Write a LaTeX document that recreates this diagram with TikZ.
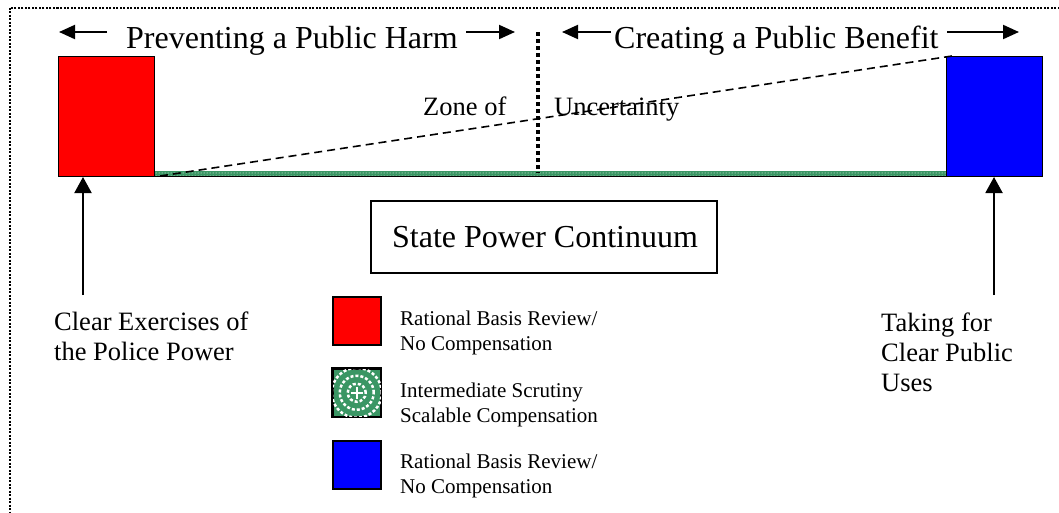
\documentclass[tikz,border=0pt]{standalone}
\usepackage{fontspec}
\setmainfont{Liberation Serif}
\usetikzlibrary{arrows.meta,patterns}
\definecolor{sgreen}{RGB}{58,150,100}
\begin{document}
\begin{tikzpicture}[x=1pt,y=-1pt,
  bigtxt/.style={font=\fontsize{32}{36}\selectfont, inner sep=0pt, anchor=base west},
  midtxt/.style={font=\fontsize{26.5}{30}\selectfont, inner sep=0pt, anchor=base west, align=left},
  legtxt/.style={font=\fontsize{21}{25}\selectfont, inner sep=0pt, anchor=base west, align=left},
  endbox/.style={draw=black, line width=1.2pt, minimum width=96pt, minimum height=120pt, inner sep=0pt, anchor=north west},
  legbox/.style={draw=black, line width=1.5pt, minimum width=48pt, minimum height=48pt, inner sep=0pt, anchor=north west},
  toparrow/.style={line width=2pt, -{Triangle[length=16pt,width=14pt]}},
  uparrow/.style={line width=2pt, -{Triangle[length=16pt,width=17pt]}},
  ring/.style={white, line width=2.5pt, dash pattern=on 3pt off 2pt},
]
\useasboundingbox (0,0) rectangle (1059,512);
% dotted frame
\draw[line width=2pt, dash pattern=on 2pt off 1.5pt] (9.5,7.5) rectangle (1080,540);

% green band
\fill[sgreen] (154,170.5) rectangle (946,176);
\fill[pattern=dots, pattern color=white] (154,171) rectangle (946,175);
\draw[line width=1.3pt] (154,176.5) -- (946,176.5);

% end boxes
\node[endbox, fill=red] (redbox) at (58,56) {};
\node[endbox, fill=blue] (bluebox) at (946,56) {};

% dashed diagonal
\coordinate (dstart) at (160,176);
\coordinate (dend) at (952,56);
\draw[line width=1.6pt, dash pattern=on 8pt off 5pt] (dstart) -- (dend);

% vertical dotted divider
\coordinate (dtop) at (538,32);
\coordinate (dbot) at (538,173);
\draw[line width=3.5pt, dash pattern=on 3.5pt off 3.5pt] (dtop) -- (dbot);

% top labels and arrows
\node[bigtxt] (harm) at (126,48) {Preventing a Public Harm};
\node[bigtxt] (benefit) at (614,48) {Creating a Public Benefit};
\coordinate (a1s) at (107,32); \coordinate (a1e) at (59,32);
\coordinate (a2s) at (466,32); \coordinate (a2e) at (515,32);
\coordinate (a3s) at (611,32); \coordinate (a3e) at (562,32);
\coordinate (a4s) at (947,32); \coordinate (a4e) at (1019,32);
\draw[toparrow] (a1s) -- (a1e);
\draw[toparrow] (a2s) -- (a2e);
\draw[toparrow] (a3s) -- (a3e);
\draw[toparrow] (a4s) -- (a4e);

% zone of uncertainty
\node[midtxt] (zone) at (423,115) {Zone of};
\node[midtxt] (uncert) at (554,115) {Uncertainty};

% continuum box
\node[draw=black, line width=1.5pt, minimum width=346pt, minimum height=72pt, inner sep=0pt,
      anchor=north west] (cont) at (370,200) {};
\node[bigtxt] (conttxt) at (392,247) {State Power Continuum};

% up arrows
\coordinate (lbot) at (83,295); \coordinate (ltip) at (83,177);
\coordinate (rbot) at (994,295); \coordinate (rtip) at (994,177);
\draw[uparrow] (lbot) -- (ltip);
\draw[uparrow] (rbot) -- (rtip);

% bottom labels (base anchor = last line)
\node[midtxt] (police) at (54,360) {Clear Exercises of\\the Police Power};
\node[midtxt] (taking) at (881,391) {Taking for\\Clear Public\\Uses};

% legend
\node[legbox, fill=red] (lred) at (332,296) {};
\node[legbox, fill=sgreen] (lgreen) at (332,368) {};
\begin{scope}
  \clip (lgreen.north west) rectangle (lgreen.south east);
  \draw[ring] (lgreen.center) circle[radius=9pt];
  \draw[ring] (lgreen.center) circle[radius=17pt];
  \draw[ring] (lgreen.center) circle[radius=25pt];
  \draw[white, line width=2pt] ([xshift=-6pt]lgreen.center) -- ([xshift=6pt]lgreen.center);
  \draw[white, line width=2pt] ([yshift=-6pt]lgreen.center) -- ([yshift=6pt]lgreen.center);
  \fill[white] ([yshift=-4pt]lgreen.south west) rectangle ([xshift=-6pt]lgreen.south east);
\end{scope}
\draw[line width=1.5pt] (lgreen.north west) rectangle (lgreen.south east);
\node[legbox, fill=blue] (lblue) at (332,440) {};
\node[legtxt] (t1) at (400,350) {Rational Basis Review/\\No Compensation};
\node[legtxt] (t2) at (400,422) {Intermediate Scrutiny\\Scalable Compensation};
\node[legtxt] (t3) at (400,493) {Rational Basis Review/\\No Compensation};
\end{tikzpicture}
\end{document}
